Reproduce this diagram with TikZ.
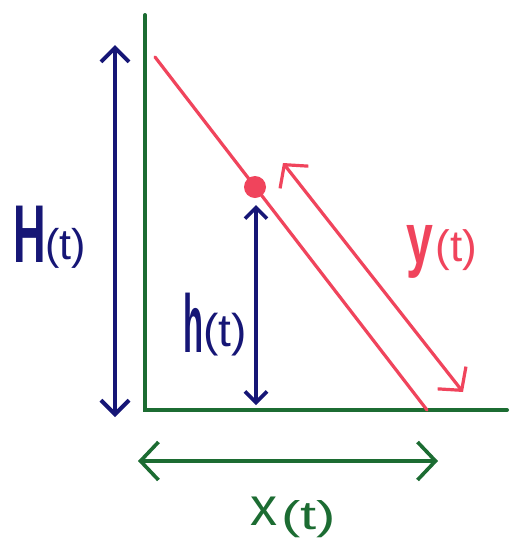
\documentclass[tikz,border=0pt]{standalone}
\usepackage{fontspec}
\setmainfont{Liberation Sans}
\usetikzlibrary{arrows.meta}
\definecolor{grn}{RGB}{28,108,50}
\definecolor{navy}{RGB}{22,22,118}
\definecolor{rd}{RGB}{240,68,92}
\newcommand{\fs}[1]{\fontsize{#1}{#1}\selectfont}
\tikzset{
  axis/.style={draw=grn, line width=4pt, line cap=round, line join=miter},
  bluearr/.style={draw=navy, line width=4pt, line cap=round, {Straight Barb[length=14pt,width=28pt]}-{Straight Barb[length=14pt,width=28pt]}},
  smallarr/.style={draw=navy, line width=3.6pt, line cap=round, {Straight Barb[length=11pt,width=22pt]}-{Straight Barb[length=11pt,width=22pt]}},
  grnarr/.style={draw=grn, line width=3.6pt, line cap=round, {Straight Barb[length=18pt,width=38pt]}-{Straight Barb[length=18pt,width=38pt]}},
  redarr/.style={draw=rd, line width=3.2pt, line cap=round, {Straight Barb[length=16pt,width=36pt]}-{Straight Barb[length=16pt,width=36pt]}},
  ladder/.style={draw=rd, line width=3.2pt, line cap=round},
  lbl/.style={inner sep=0pt, outer sep=0pt, anchor=base west},
  dotnode/.style={circle, fill=rd, minimum size=22pt, inner sep=0pt}
}
\begin{document}
\begin{tikzpicture}[x=1pt,y=-1pt]
\useasboundingbox[fill=white] (0,0) rectangle (510,539);
% axes
\coordinate (Otop) at (145,15);
\coordinate (O) at (145,410);
\coordinate (Oright) at (507,410);
\draw[axis] (Otop) -- (O) -- (Oright);
% ladder
\coordinate (Ltop) at (155,57);
\coordinate (Lbot) at (427,410);
\draw[ladder] (Ltop) -- (Lbot);
\node[dotnode] (dot) at (255,187) {};
% H(t)
\coordinate (Ha) at (115,45);
\coordinate (Hb) at (115,417);
\draw[bluearr] (Ha) -- (Hb);
\node[lbl, text=navy] (Hlab) at (13,262) {\fs{82}\scalebox{0.55}[1]{\bfseries H}\raisebox{3pt}{\fs{43}(t)}};
% h(t)
\coordinate (ha) at (256,205);
\coordinate (hb) at (256,405);
\draw[smallarr] (ha) -- (hb);
\node[lbl, text=navy] (hlab) at (183,352) {\fs{82}\scalebox{0.4}[1]{\bfseries h}\raisebox{6pt}{\fs{46}(t)}};
% y(t)
\coordinate (ya) at (283,163);
\coordinate (yb) at (463,392);
\draw[redarr] (ya) -- (yb);
\node[lbl, text=rd] (ylab) at (406,263) {\fs{72}\scalebox{0.67}[1]{\bfseries y}\hspace{3pt}\raisebox{2pt}{\fs{44}(t)}};
% x(t)
\coordinate (xa) at (138,461);
\coordinate (xb) at (438,461);
\draw[grnarr] (xa) -- (xb);
\node[lbl, text=grn] (xlab) at (250,525) {\fs{54}x\hspace{4pt}\raisebox{-4pt}{\fs{40}\scalebox{1.45}[1]{(t)}}};
\end{tikzpicture}
\end{document}
